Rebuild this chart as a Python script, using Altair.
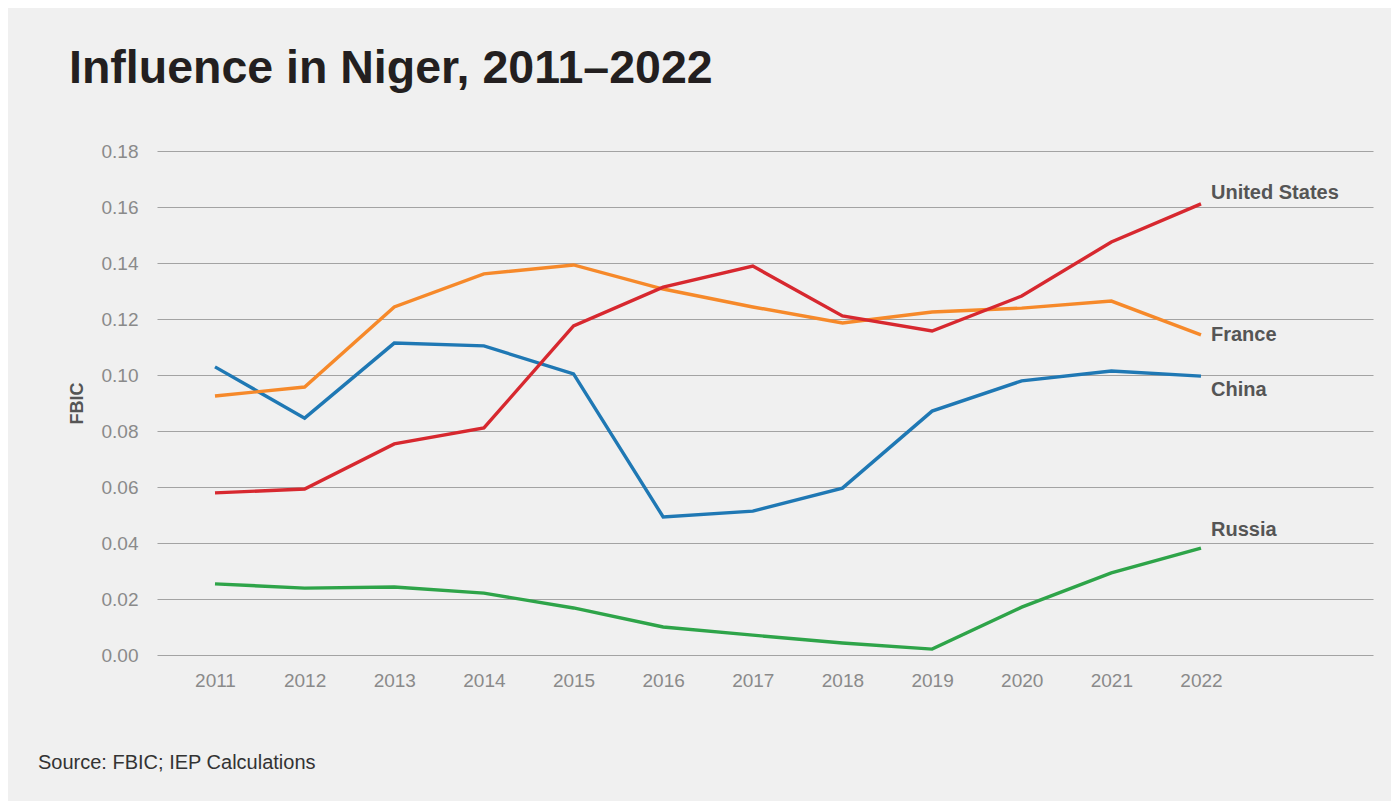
import altair as alt
import pandas as pd

years = [2011, 2012, 2013, 2014, 2015, 2016, 2017, 2018, 2019, 2020, 2021, 2022]
china = [0.1029, 0.0846, 0.1114, 0.1104, 0.1004, 0.0493, 0.0514, 0.0596, 0.0871, 0.0979, 0.1014, 0.0996]
france = [0.0925, 0.0957, 0.1243, 0.1361, 0.1393, 0.1307, 0.1243, 0.1186, 0.1225, 0.1239, 0.1264, 0.1143]
united_states = [0.0579, 0.0593, 0.0754, 0.0811, 0.1175, 0.1314, 0.1389, 0.1211, 0.1157, 0.1282, 0.1475, 0.1611]
russia = [0.0254, 0.0239, 0.0243, 0.0221, 0.0168, 0.0100, 0.0071, 0.0043, 0.0021, 0.0171, 0.0293, 0.0382]

series_names = ["China", "France", "United States", "Russia"]
series_values = [china, france, united_states, russia]
series_colors = ["#1f78b4", "#f6892a", "#d7282f", "#2ea449"]
label_dy = [14, 0, -11, -18]

y_ticks = [0.00, 0.02, 0.04, 0.06, 0.08, 0.10, 0.12, 0.14, 0.16, 0.18]

rows = []
for name, vals in zip(series_names, series_values):
    for yr, v in zip(years, vals):
        rows.append({"year": yr, "value": v, "series": name})
df = pd.DataFrame(rows)

FONT = "Liberation Sans"

x_enc = alt.X(
    "year:Q",
    scale=alt.Scale(domain=[2010.353, 2023.919], nice=False, zero=False),
    axis=alt.Axis(
        values=years, format="d", domain=False, ticks=False, grid=False,
        labelColor="#8a8a8a", labelFontSize=19, labelFont=FONT, labelPadding=16,
        title=None,
    ),
)
y_enc = alt.Y(
    "value:Q",
    scale=alt.Scale(domain=[0, 0.18], nice=False),
    axis=alt.Axis(
        values=y_ticks, format=".2f", domain=False, ticks=False, grid=True,
        gridColor="#a3a3a3", gridWidth=1,
        labelColor="#8a8a8a", labelFontSize=19, labelFont=FONT, labelPadding=19,
        title="FBIC", titleFont=FONT, titleFontSize=18, titleFontWeight="bold",
        titleColor="#555555", titleAngle=270, titleX=-80, titleY=252,
        titleAlign="center", titleBaseline="middle",
    ),
)

color_scale = alt.Scale(domain=series_names, range=series_colors)

lines = alt.Chart(df).mark_line(strokeWidth=3.4).encode(
    x=x_enc,
    y=y_enc,
    color=alt.Color("series:N", scale=color_scale, legend=None),
    detail="series:N",
)

layers = [lines]
for name, dy in zip(series_names, label_dy):
    last = df[(df.series == name) & (df.year == years[-1])]
    layers.append(
        alt.Chart(last).mark_text(
            align="left", baseline="middle", dx=10, dy=dy,
            font=FONT, fontSize=20, fontWeight="bold", color="#555555",
        ).encode(x="year:Q", y="value:Q", text="series:N")
    )

title_df = pd.DataFrame({"t": ["Influence in Niger, 2011\u20132022"]})
title = alt.Chart(title_df).mark_text(
    align="left", baseline="alphabetic", font=FONT, fontSize=46.5,
    fontWeight="bold", color="#231f20",
).encode(x=alt.value(-88), y=alt.value(-68), text="t:N")

src_df = pd.DataFrame({"t": ["Source: FBIC; IEP Calculations"]})
source = alt.Chart(src_df).mark_text(
    align="left", baseline="alphabetic", font=FONT, fontSize=20, color="#333333",
).encode(x=alt.value(-119), y=alt.value(618), text="t:N")

chart = alt.layer(*layers, title, source).properties(
    width=1216,
    height=504,
    background="#f0f0f0",
    autosize=alt.AutoSizeParams(type="none"),
    padding={"left": 149, "top": 143, "right": 18, "bottom": 146},
).configure_view(stroke=None)

chart.save("out.html", embed_options={"renderer": "svg", "actions": False})
